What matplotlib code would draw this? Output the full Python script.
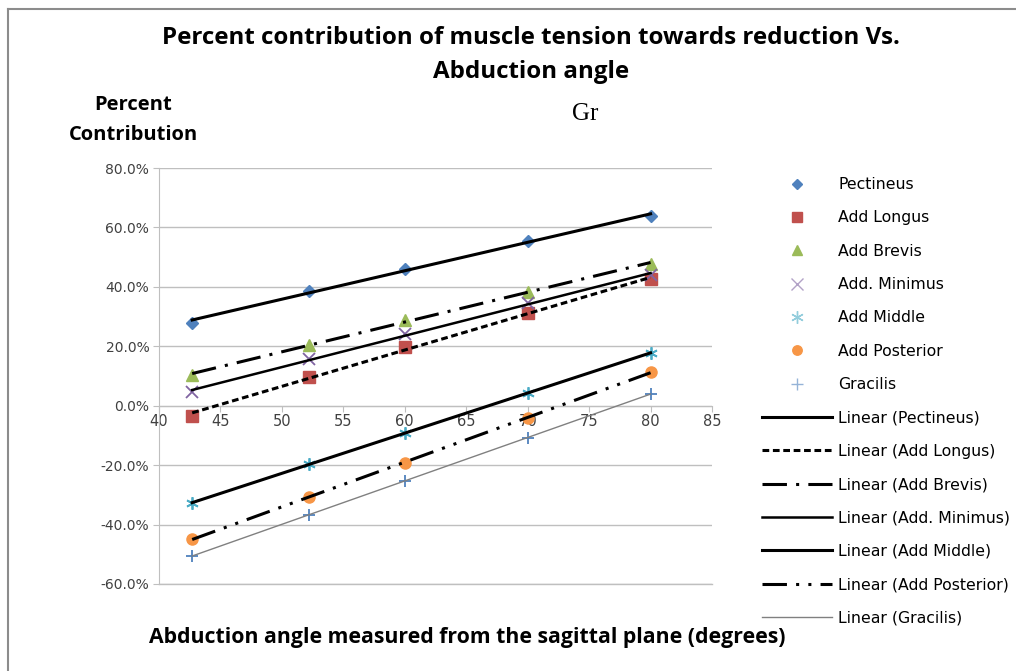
import numpy as np
import matplotlib
matplotlib.use("Agg")
import matplotlib.pyplot as plt
from matplotlib.lines import Line2D
from matplotlib.ticker import FuncFormatter

# ---- data ----
angles = [42.7, 52.2, 60, 70, 80]
muscles = ["Pectineus", "Add Longus", "Add Brevis", "Add. Minimus",
           "Add Middle", "Add Posterior", "Gracilis"]
pectineus = [0.280, 0.385, 0.460, 0.555, 0.638]
add_longus = [-0.034, 0.098, 0.197, 0.311, 0.425]
add_brevis = [0.104, 0.204, 0.288, 0.383, 0.478]
add_minimus = [0.045, 0.158, 0.241, 0.346, 0.439]
add_middle = [-0.328, -0.196, -0.092, 0.043, 0.177]
add_posterior = [-0.449, -0.306, -0.193, -0.042, 0.114]
gracilis = [-0.506, -0.367, -0.252, -0.109, 0.040]
series = [pectineus, add_longus, add_brevis, add_minimus,
          add_middle, add_posterior, gracilis]
x_ticks = [40, 45, 50, 55, 60, 65, 70, 75, 80, 85]
y_ticks = [-0.6, -0.4, -0.2, 0.0, 0.2, 0.4, 0.6, 0.8]

# ---- styles ----
colors = ["#4F81BD", "#C0504D", "#9BBB59", "#8064A2", "#4BACC6", "#F79646", "#4F81BD"]
markers = ["D", "s", "^", "x", "*", "o", "+"]
msizes = [6, 8, 8, 8, 9, 8, 9]
trend_styles = [
    dict(color="black", lw=2.2, ls="-"),
    dict(color="black", lw=2.2, ls=(0, (2.2, 1.2))),
    dict(color="black", lw=2.2, ls=(0, (8, 3, 1, 3))),
    dict(color="black", lw=1.8, ls="-"),
    dict(color="black", lw=2.2, ls="-"),
    dict(color="black", lw=2.2, ls=(0, (8, 3, 1, 3, 1, 3))),
    dict(color="#808080", lw=1.0, ls="-"),
]

fig = plt.figure(figsize=(10.16, 6.71), dpi=100)
ax = fig.add_axes([0.1565, 0.1297, 0.5443, 0.6199])

# chart area border (top and left)
W, H = 1016, 671
fig.add_artist(Line2D([8 / W, 1], [1 - 9 / H, 1 - 9 / H], color="#8C8C8C", lw=1.5))
fig.add_artist(Line2D([8 / W, 8 / W], [0, 1 - 9 / H], color="#8C8C8C", lw=1.5))

handles_m, handles_l = [], []
for name, vals, st in zip(muscles, series, trend_styles):
    xs = np.array(angles, dtype=float)
    coef = np.polyfit(xs, np.array(vals), 1)
    xx = np.array([xs.min(), xs.max()])
    ax.plot(xx, np.polyval(coef, xx), zorder=3, **st)
    handles_l.append(Line2D([], [], label=f"Linear ({name})", **st))

for name, vals, c, m, ms in zip(muscles, series, colors, markers, msizes):
    if m in ("x", "+", "*"):
        mk = (6, 2, 0) if m == "*" else m
        ax.plot(angles, vals, ls="none", marker=mk, ms=ms, color=c, mew=1.3, zorder=2)
        h = Line2D([], [], ls="none", marker=mk, ms=ms, color=c, mew=1.0, alpha=0.6, label=name)
    else:
        ax.plot(angles, vals, ls="none", marker=m, ms=ms, color=c, mec=c, zorder=2)
        h = Line2D([], [], ls="none", marker=m, ms=ms * 0.85, color=c, label=name)
    handles_m.append(h)

ax.set_xlim(40, 85)
ax.set_ylim(-0.6, 0.8)
ax.set_xticks(x_ticks)
ax.set_yticks(y_ticks)
ax.yaxis.set_major_formatter(FuncFormatter(lambda v, p: f"{v*100:.1f}%"))
ax.grid(axis="y", color="#BFBFBF", lw=1.0)
ax.axhline(-0.6, color="#BFBFBF", lw=1.0, clip_on=False, zorder=0)
ax.set_axisbelow(True)
for s in ["top", "right"]:
    ax.spines[s].set_visible(False)
ax.spines["left"].set_color("#BFBFBF")
ax.spines["bottom"].set_position(("data", 0))
ax.spines["bottom"].set_color("#BFBFBF")
ax.tick_params(axis="y", length=4, color="#BFBFBF", labelsize=10, labelcolor="#404040", pad=3)
ax.tick_params(axis="x", length=4, direction="out", color="#BFBFBF", labelsize=10.5,
               labelcolor="#404040", pad=2)

fig.text(0.523, 1 - 38 / H, "Percent contribution of muscle tension towards reduction Vs.",
         ha="center", va="center", fontsize=17.4, fontweight="bold", family="Open Sans")
fig.text(0.523, 1 - 72 / H, "Abduction angle", ha="center", va="center", fontsize=17.4,
         fontweight="bold", family="Open Sans")
fig.text(133 / W, 1 - 105 / H, "Percent", ha="center", va="center", fontsize=14.5,
         fontweight="bold", family="Open Sans")
fig.text(133 / W, 1 - 135 / H, "Contribution", ha="center", va="center", fontsize=14.5,
         fontweight="bold", family="Open Sans")
fig.text(585 / W, 1 - 114 / H, "Gr", ha="center", va="center", fontsize=18, family="Liberation Serif")
fig.text(467 / W, 1 - 638 / H, "Abduction angle measured from the sagittal plane (degrees)",
         ha="center", va="center", fontsize=15.3, fontweight="bold", family="Open Sans")

leg = fig.legend(handles=handles_m + handles_l, loc="upper left",
                 bbox_to_anchor=(0.750, 1 - 177 / H), frameon=False, fontsize=11.3,
                 handlelength=4.45, handletextpad=0.4, labelspacing=1.17,
                 borderaxespad=0, borderpad=0)

fig.savefig("out.png", dpi=100)
